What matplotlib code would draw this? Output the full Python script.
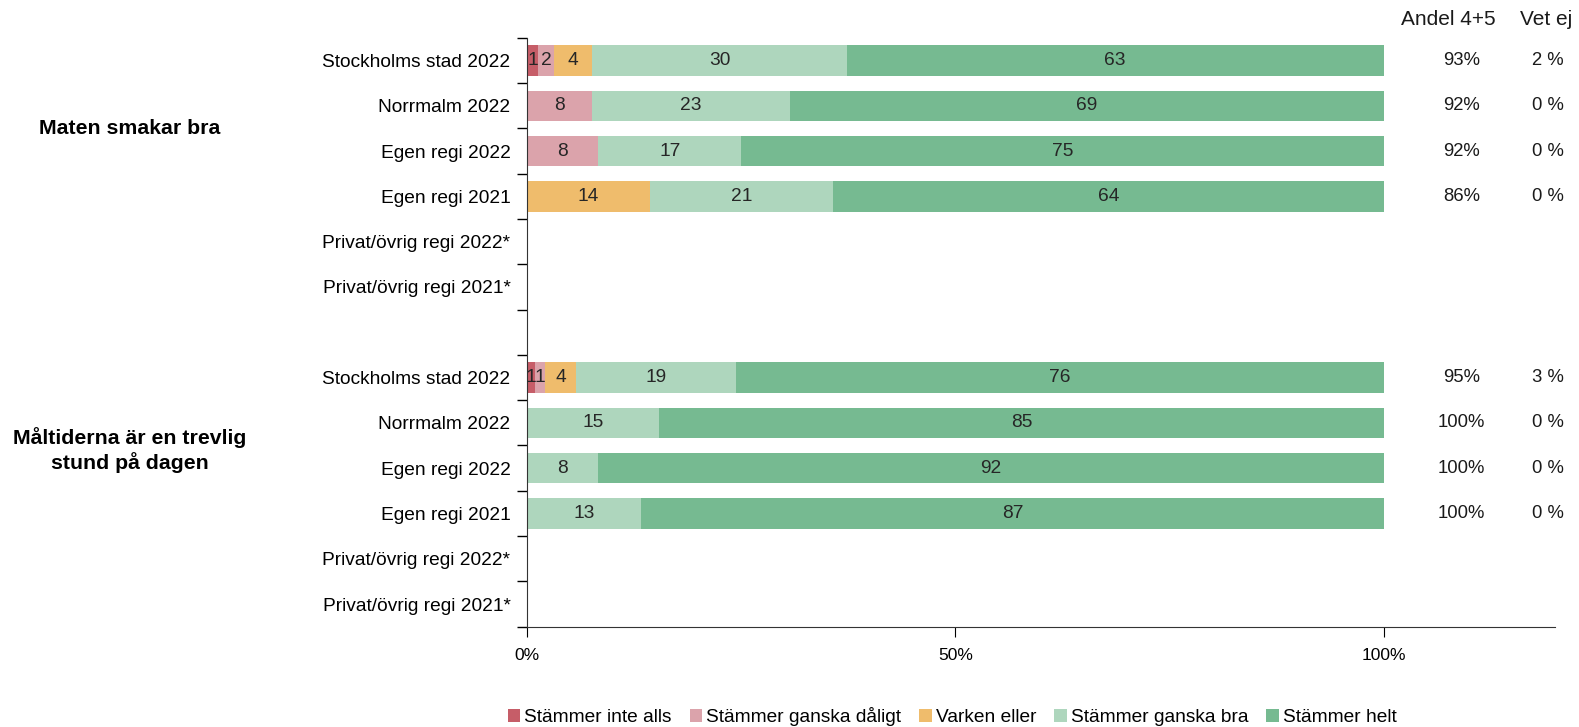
import numpy as np
import matplotlib
matplotlib.use("Agg")
from matplotlib import pyplot as plt
from matplotlib.patches import Patch

plt.rcParams["font.family"] = ["Liberation Sans", "DejaVu Sans"]

categories = ["Stämmer inte alls", "Stämmer ganska dåligt", "Varken eller",
              "Stämmer ganska bra", "Stämmer helt"]
colors = ["#C65D68", "#DBA3AB", "#EFBC6C", "#AED6BD", "#76BA91"]

row_labels = ["Stockholms stad 2022", "Norrmalm 2022", "Egen regi 2022", "Egen regi 2021",
              "Privat/övrig regi 2022*", "Privat/övrig regi 2021*"]
groups = ["Maten smakar bra", "Måltiderna är en trevlig\nstund på dagen"]

# values per row: inte alls, ganska dåligt, varken eller, ganska bra, helt
maten = [
    [1.3, 1.8, 4.5, 29.7, 62.7],
    [0, 7.6, 0, 23.1, 69.3],
    [0, 8.3, 0, 16.7, 75.0],
    [0, 0, 14.3, 21.4, 64.3],
    [0, 0, 0, 0, 0],
    [0, 0, 0, 0, 0],
]
maltider = [
    [0.9, 1.2, 3.6, 18.7, 75.6],
    [0, 0, 0, 15.4, 84.6],
    [0, 0, 0, 8.3, 91.7],
    [0, 0, 0, 13.3, 86.7],
    [0, 0, 0, 0, 0],
    [0, 0, 0, 0, 0],
]
andel = [["93%", "92%", "92%", "86%", "", ""], ["95%", "100%", "100%", "100%", "", ""]]
vet_ej = [["2 %", "0 %", "0 %", "0 %", "", ""], ["3 %", "0 %", "0 %", "0 %", "", ""]]

fig = plt.figure(figsize=(15.79, 7.27), dpi=100)
ax = fig.add_axes([0.3338, 0.138, 0.6511, 0.810])

fs = 13.8
ypos_all = []
labels_all = []
for g, data in enumerate([maten, maltider]):
    data = np.array(data, dtype=float)
    ypos = np.arange(len(row_labels)) + g * (len(row_labels) + 1)
    left = np.zeros(len(row_labels))
    for k in range(len(categories)):
        vals = data[:, k]
        ax.barh(ypos, vals, left=left, height=0.67, color=colors[k], edgecolor="none")
        for y, l, v in zip(ypos, left, vals):
            if v > 0:
                ax.text(l + v / 2, y, f"{int(round(v))}", ha="center", va="center",
                        fontsize=fs, color="#262626")
        left += vals
    for y, a, ve in zip(ypos, andel[g], vet_ej[g]):
        ax.text(109.1, y, a, ha="center", va="center", fontsize=13.3, color="#1a1a1a", clip_on=False)
        ax.text(119.2, y, ve, ha="center", va="center", fontsize=13.3, color="#1a1a1a", clip_on=False)
    ax.text(-46.4, ypos[:4].mean() + 0.1 * g, groups[g], ha="center", va="center", fontsize=15.3,
            fontweight="bold", clip_on=False)
    ypos_all += list(ypos)
    labels_all += row_labels

ax.text(107.5, -0.91, "Andel 4+5", ha="center", va="center", fontsize=15, color="#1a1a1a", clip_on=False)
ax.text(119.0, -0.91, "Vet ej", ha="center", va="center", fontsize=15, color="#1a1a1a", clip_on=False)

ax.set_xlim(0, 120)
ax.set_ylim(12.5, -0.5)
ax.set_yticks(ypos_all)
ax.set_yticklabels(labels_all, fontsize=fs)
ax.set_yticks(np.arange(-0.5, 13, 1), minor=True)
ax.tick_params(axis="y", which="major", length=0, pad=12)
ax.tick_params(axis="y", which="minor", length=7, width=1, direction="out")
ax.set_xticks([0, 50, 100])
ax.set_xticklabels(["0%", "50%", "100%"], fontsize=12.5)
ax.tick_params(axis="x", length=7, direction="out", pad=8)
for s in ["top", "right"]:
    ax.spines[s].set_visible(False)
for s in ["left", "bottom"]:
    ax.spines[s].set_color("#333333")

handles = [Patch(facecolor=c, edgecolor="none") for c in colors]
fig.legend(handles, categories, loc="center", bbox_to_anchor=(0.603, 0.0145), ncol=5,
           frameon=False, fontsize=fs, handlelength=0.65, handleheight=0.65,
           handletextpad=0.2, columnspacing=0.95, borderpad=0)

fig.savefig("out.png", dpi=100)
